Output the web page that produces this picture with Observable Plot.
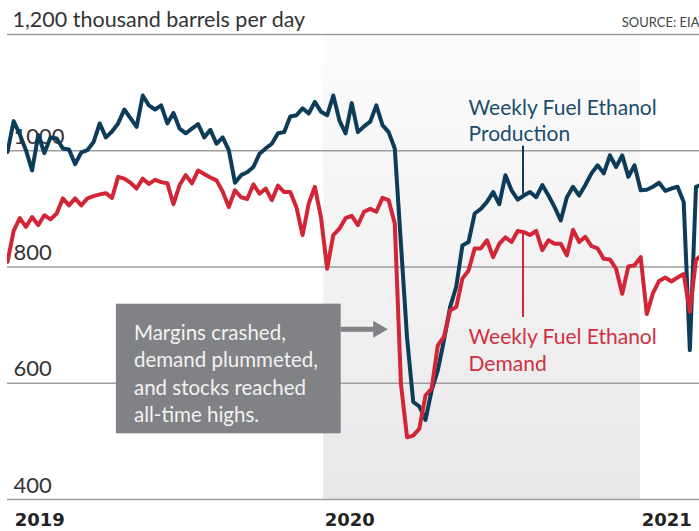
<!DOCTYPE html>
<html><head><meta charset="utf-8">
<script src="https://cdn.jsdelivr.net/npm/d3@7"></script>
<script src="https://cdn.jsdelivr.net/npm/@observablehq/plot@0.6"></script>
<style>html,body{margin:0;padding:0;background:#fff;}</style>
</head><body><div id="chart"></div>
<script>
// Week-ending dates (EIA weekly data)
const weeks = [
"2019-01-04","2019-01-11","2019-01-18","2019-01-25","2019-02-01","2019-02-08","2019-02-15","2019-02-22","2019-03-01","2019-03-08",
"2019-03-15","2019-03-22","2019-03-29","2019-04-05","2019-04-12","2019-04-19","2019-04-26","2019-05-03","2019-05-10","2019-05-17",
"2019-05-24","2019-05-31","2019-06-07","2019-06-14","2019-06-21","2019-06-28","2019-07-05","2019-07-12","2019-07-19","2019-07-26",
"2019-08-02","2019-08-09","2019-08-16","2019-08-23","2019-08-30","2019-09-06","2019-09-13","2019-09-20","2019-09-27","2019-10-04",
"2019-10-11","2019-10-18","2019-10-25","2019-11-01","2019-11-08","2019-11-15","2019-11-22","2019-11-29","2019-12-06","2019-12-13",
"2019-12-20","2019-12-27","2020-01-03","2020-01-10","2020-01-17","2020-01-24","2020-01-31","2020-02-07","2020-02-14","2020-02-21",
"2020-02-28","2020-03-06","2020-03-13","2020-03-20","2020-03-27","2020-04-03","2020-04-10","2020-04-17","2020-04-24","2020-05-01",
"2020-05-08","2020-05-15","2020-05-22","2020-05-29","2020-06-05","2020-06-12","2020-06-19","2020-06-26","2020-07-03","2020-07-10",
"2020-07-17","2020-07-24","2020-07-31","2020-08-07","2020-08-14","2020-08-21","2020-08-28","2020-09-04","2020-09-11","2020-09-18",
"2020-09-25","2020-10-02","2020-10-09","2020-10-16","2020-10-23","2020-10-30","2020-11-06","2020-11-13","2020-11-20","2020-11-27",
"2020-12-04","2020-12-11","2020-12-18","2020-12-25","2021-01-01","2021-01-08","2021-01-15","2021-01-22","2021-01-29","2021-02-05",
"2021-02-12","2021-02-19","2021-02-26","2021-03-05"
];
// Weekly fuel ethanol production, thousand barrels per day
const production = [
998,1051,1028,1001,966,1027,996,1023,1021,1004,
1002,977,997,1001,1015,1047,1023,1033,1047,1071,
1056,1041,1095,1078,1071,1078,1047,1065,1038,1030,
1038,1046,1023,1036,1012,1023,1001,945,958,963,
972,995,1004,1012,1030,1032,1059,1061,1073,1064,
1084,1067,1061,1095,1052,1030,1082,1032,1042,1050,
1078,1044,1032,1004,840,678,568,560,537,588,
622,674,731,766,837,843,892,900,912,929,
908,958,932,916,923,929,920,941,923,903,
880,920,938,923,941,961,975,961,992,972,
992,955,975,932,933,938,945,931,935,938,
912,657,938,942
];
// Weekly fuel ethanol demand, thousand barrels per day
const demand = [
809,862,884,869,886,872,889,882,892,918,
906,918,906,918,922,925,927,919,955,952,
945,935,952,943,950,946,944,908,941,958,
944,966,960,954,949,930,903,932,920,917,
942,926,935,915,940,929,929,903,855,909,
938,885,797,855,866,884,888,872,895,900,
895,919,915,875,599,507,510,522,579,591,
665,680,725,731,780,794,832,832,846,817,
840,851,843,862,860,855,862,829,846,840,
840,820,864,843,852,836,832,814,813,797,
754,801,803,817,719,755,776,782,775,782,
788,723,812,822
];
const gridValues = [400, 600, 800, 1000, 1200];
const gridLabels = [400, 600, 800, 1000];
const yearLabels = ["2019", "2020", "2021"];
const yearLabelDates = ["2019-01-11", "2019-12-30", "2020-12-25"];
const shadeStart = "2019-12-30", shadeEnd = "2020-12-25";
const boxLines = ["Margins crashed,", "demand plummeted,", "and stocks reached", "all-time highs."];

const BLUE = "#0d3c5a", RED = "#d22637", GRAY = "#818285";
const D = s => new Date(s);
const data = weeks.map((w, i) => ({date: D(w), production: production[i], demand: demand[i]}));

const gradient = () => {
  const defs = d3.create("svg:defs");
  const g = defs.append("linearGradient").attr("id", "shade")
    .attr("x1", 0).attr("y1", 0).attr("x2", 0).attr("y2", 1);
  g.append("stop").attr("offset", "0%").attr("stop-color", "#fcfcfc");
  g.append("stop").attr("offset", "100%").attr("stop-color", "#e8e8ea");
  return defs.node();
};

const chart = Plot.plot({
  width: 699, height: 531,
  marginTop: 34, marginBottom: 32, marginLeft: 7, marginRight: 0,
  x: {type: "utc", domain: [D("2019-01-04"), D("2021-03-02")], axis: null},
  y: {domain: [400, 1200], axis: null},
  style: {fontFamily: "Lato, 'Open Sans', sans-serif", background: "#fff", overflow: "visible"},
  marks: [
    gradient,
    Plot.rect([0], {x1: () => D(shadeStart), x2: () => D(shadeEnd), y1: 400, y2: 1200, fill: "url(#shade)"}),
    Plot.ruleY(gridValues, {stroke: "#9d9d9d", strokeWidth: 1.5}),
    Plot.text(gridLabels, {y: d => d, text: d => String(d), frameAnchor: "left", textAnchor: "start", dx: 6, dy: -14, fontSize: 22, fill: "#333"}),
    Plot.text(["1,200 thousand barrels per day"], {y: 1200, text: d => d, frameAnchor: "left", textAnchor: "start", dx: 5, dy: -14, fontSize: 21.5, fill: "#333"}),
    Plot.text(["SOURCE: EIA"], {y: 1200, text: d => d, frameAnchor: "right", textAnchor: "end", dy: -12, fontSize: 13, fill: "#444"}),
    Plot.text(yearLabels, {x: (d, i) => D(yearLabelDates[i]), y: 400, text: d => d, textAnchor: "start", dx: 1, dy: 21, fontSize: 18, fontWeight: "bold", fontFamily: "DejaVu Sans", fill: "#222"}),
    // annotation box
    Plot.rect([0], {x1: () => D("2019-05-08"), x2: () => D("2020-01-19"), y1: 513, y2: 736, fill: GRAY}),
    Plot.text([boxLines.join("\n")], {x: () => D("2019-05-28"), y: 619, text: d => d, textAnchor: "start", lineAnchor: "middle", lineHeight: 1.335, fontSize: 20.5, fill: "#f2f2f2"}),
    Plot.ruleY([693], {x1: () => D("2020-01-19"), x2: () => D("2020-02-29"), stroke: GRAY, strokeWidth: 5}),
    Plot.dot([0], {x: () => D("2020-03-01"), y: 693, symbol: "triangle", r: 6.3, rotate: 90, fill: GRAY, stroke: "none"}),
    // series labels and leaders
    Plot.ruleX([D("2020-08-13")], {y1: 1008, y2: 925, stroke: BLUE, strokeWidth: 2}),
    Plot.ruleX([D("2020-08-13")], {y1: 860, y2: 713, stroke: RED, strokeWidth: 2}),
    Plot.text(["Weekly Fuel Ethanol\nProduction"], {x: () => D("2020-06-12"), y: 1054, text: d => d, textAnchor: "start", lineAnchor: "middle", lineHeight: 1.27, fontSize: 21, fill: "#1b4d6c"}),
    Plot.text(["Weekly Fuel Ethanol\nDemand"], {x: () => D("2020-06-12"), y: 659, text: d => d, textAnchor: "start", lineAnchor: "middle", lineHeight: 1.27, fontSize: 21, fill: "#d0303f"}),
    // series
    Plot.line(data, {x: "date", y: "production", stroke: BLUE, strokeWidth: 4, strokeLinejoin: "round", clip: true}),
    Plot.line(data, {x: "date", y: "demand", stroke: RED, strokeWidth: 4, strokeLinejoin: "round", clip: true})
  ]
});
document.getElementById("chart").append(chart);
</script>
</body></html>
